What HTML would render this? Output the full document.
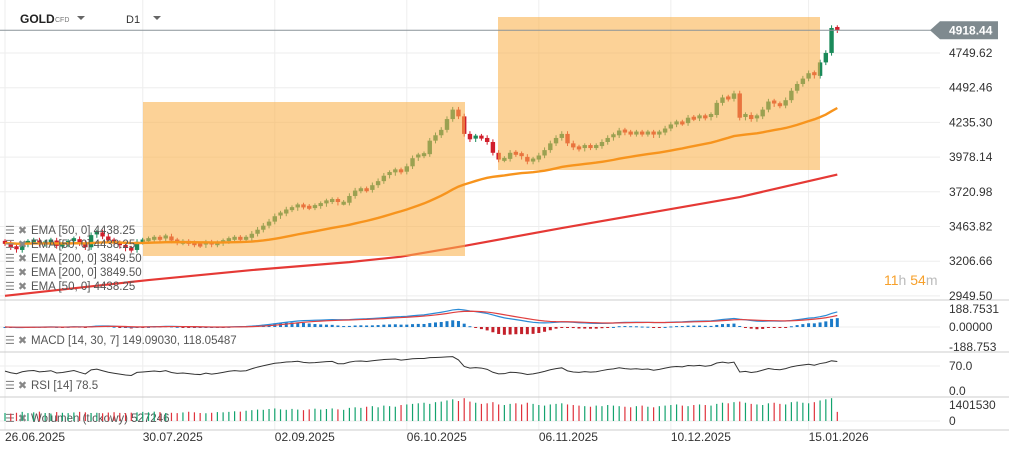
<!DOCTYPE html>
<html><head><meta charset="utf-8"><style>
body{margin:0;background:#fff;}
svg{display:block;font-family:"Liberation Sans",sans-serif;}
</style></head><body>
<svg id="chart" width="1009" height="450" viewBox="0 0 1009 450" xmlns="http://www.w3.org/2000/svg">
<rect width="1009" height="450" fill="#fff"/>
<g id="grid"></g>
<g id="ema200g"></g>
<g id="candles"></g>
<rect x="143" y="102" width="322" height="154" fill="rgb(250,178,75)" opacity="0.58"/>
<rect x="498" y="17" width="322" height="153" fill="rgb(250,178,75)" opacity="0.58"/>
<g id="ema50top"></g>
<g id="panels"></g>
<g id="axes"></g>
<g>
<text x="20" y="23" font-size="12" font-weight="bold" fill="#222">GOLD</text>
<text x="55" y="22" font-size="7" fill="#777">CFD</text>
<path d="M77 16 L85 16 L81 20 Z" fill="#666"/>
<text x="126" y="23" font-size="11" fill="#333">D1</text>
<path d="M153 16 L161 16 L157 20 Z" fill="#666"/>
</g>
<text x="884" y="285" font-size="14"><tspan fill="#f7a02a">11</tspan><tspan fill="#bbb">h </tspan><tspan fill="#f7a02a">54</tspan><tspan fill="#bbb">m</tspan></text>
</svg>
<script>
const closes=[3340,3310,3290,3330,3350,3360,3335,3345,3360,3320,3330,3350,3370,3340,3310,3400,3420,3390,3360,3340,3320,3300,3290,3350,
3360,3370,3380,3370,3390,3360,3345,3350,3340,3330,3325,3345,3330,3340,3355,3370,3380,3375,
3380,3410,3440,3470,3500,3540,3560,3590,3600,3620,3610,3605,3615,3630,3650,3660,3640,3640,3690,
3730,3740,3735,3770,3800,3840,3860,3880,3870,3910,3970,3990,4000,4100,4140,4180,4260,4330,4280,4150,
4110,4130,4120,4090,4010,3960,3965,4010,4000,3980,3945,3960,3990,4030,4080,4120,4150,4080,4050,4040,
4060,4050,4060,4090,4120,4140,4175,4160,4150,4160,4150,4160,4140,4160,4190,4220,4235,4230,4270,4265,
4280,4270,4290,4380,4420,4410,4450,4270,4290,4260,4280,4330,4390,4370,4360,4400,4470,4520,4560,4600,4580,4680,4750,4935,4918];
const volumes=[700,650,720,800,690,760,820,700,650,780,720,690,750,800,760,700,720,680,740,770,710,690,730,760,
800,760,820,780,700,720,690,750,810,760,700,680,720,780,760,800,850,820,
900,950,1000,980,1050,1100,1020,980,1060,1000,950,1020,1080,1000,1050,1100,1020,980,1150,
1200,1150,1250,1300,1200,1350,1300,1250,1400,1450,1500,1550,1600,1500,1650,1700,1800,1900,1750,2000,
1700,1600,1500,1550,1650,1450,1400,1500,1550,1450,1600,1500,1400,1350,1450,1500,1550,1450,1400,1350,
1300,1250,1350,1300,1400,1350,1300,1250,1200,1300,1350,1250,1200,1300,1350,1400,1450,1350,1300,1400,
1450,1400,1350,1500,1600,1550,1650,1700,1600,1500,1450,1400,1550,1600,1500,1450,1650,1700,1600,1550,1650,1800,1900,2000,800];
const ema200Idx=[0,25,43,60,69,80,97,111,128,145];
const ema200Val=[2950,3067,3141,3200,3240,3320,3452,3556,3682,3849];
const priceTicks=[4749.62,4492.46,4235.30,3978.14,3720.98,3463.82,3206.66,2949.50];
const dateIdx=[0,24,47,70,93,116,140];
const dateLabels=["26.06.2025","30.07.2025","02.09.2025","06.10.2025","06.11.2025","10.12.2025","15.01.2026"];
const lastPrice=4918.44;

const NS="http://www.w3.org/2000/svg";
function mk(tag,attrs,parent){const e=document.createElementNS(NS,tag);for(const k in attrs)e.setAttribute(k,attrs[k]);parent.appendChild(e);return e;}
const xOf=i=>5+i*5.74;
const yP=p=>53+(4749.62-p)*34.7/257.16;
const yM=v=>327-v*18.5/188.75;
const yR=v=>391-v*25/70;
const yV=v=>421-v*16/1401.53;
const G=id=>document.getElementById(id);

const grid=G('grid');
priceTicks.forEach(p=>{const l=mk('line',{x1:0,x2:940,y1:yP(p),y2:yP(p),stroke:'#eee'},grid);

});
dateIdx.forEach(i=>{const l=mk('line',{x1:xOf(i),x2:xOf(i),y1:0,y2:430,stroke:'#eee'},grid);

});
[[327],[366],[421]].forEach(a=>{const l=mk('line',{x1:0,x2:940,y1:a[0],y2:a[0],stroke:'#eee'},grid);

});

let pts=ema200Idx.map((ix,k)=>xOf(ix)+','+yP(ema200Val[k])).join(' ');
const e2=mk('polyline',{points:pts,fill:'none',stroke:'#e53935','stroke-width':2.2},G('ema200g'));



const cg=G('candles');
closes.forEach((c,i)=>{
  const o=i===0?c+10:closes[i-1];
  const up=c>=o;const col=up?'#1a8a5a':'#d11f2c';
  const hi=Math.max(o,c)+20,lo=Math.min(o,c)-20;const x=xOf(i);
  const w=mk('line',{x1:x,x2:x,y1:yP(hi),y2:yP(lo),stroke:col,'stroke-width':1},cg);
  
  
  const top=yP(Math.max(o,c)),h=Math.max(3,yP(Math.min(o,c))-top);
  const b=mk('rect',{x:x-2.2,y:top-(h===3?1:0),width:4.4,height:h,fill:col},cg);
  
  
});

function ema(arr,n){const a=2/(n+1);const out=[];let v=arr[0];arr.forEach((x,i)=>{v=i===0?x:a*x+(1-a)*v;out.push(v);});return out;}
const e50=ema(closes,50);
const e5=mk('polyline',{points:e50.map((v,i)=>xOf(i)+','+yP(v)).join(' '),fill:'none',stroke:'#f7941d','stroke-width':2.4},G('ema50top'));



const pn=G('panels');
const legs=[["EMA  [50,  0]  4438.25",234],["EMA  [50,  0]  4438.25",248],["EMA  [200,  0]  3849.50",262],["EMA  [200,  0]  3849.50",276],["EMA  [50,  0]  4438.25",290],["MACD  [14,  30,  7]  149.09030,   118.05487",344],["RSI  [14]  78.5",389],["Wolumen  (tickowy)  527246",422]];
legs.forEach(l=>{
  const ic=mk('text',{x:5,y:l[1],'font-size':11,fill:'#888'},pn);ic.textContent='☰ ✖';
  
  
  const t=mk('text',{x:31,y:l[1],'font-size':11.5,fill:'#555'},pn);t.textContent=l[0];
  
  
});

[300,352,397,430].forEach(y=>{const l=mk('line',{x1:0,x2:1009,y1:y,y2:y,stroke:'#ccc'},pn);

});

const m1=ema(closes,14),m2=ema(closes,30);
const macd=m1.map((v,i)=>v-m2[i]);const sig=ema(macd,7);
macd.forEach((v,i)=>{const h=v-sig[i];const y0=yM(0),y1=yM(h*2.5);
  const r=mk('rect',{x:xOf(i)-1.5,y:Math.min(y0,y1),width:3,height:Math.max(1,Math.abs(y1-y0)),fill:h>=0?'#1a7ac8':'#c4202a'},pn);
  
  });
const ml=mk('polyline',{points:macd.map((v,i)=>xOf(i)+','+yM(v)).join(' '),fill:'none',stroke:'#2a8bd6','stroke-width':1.2},pn);


const sl=mk('polyline',{points:sig.map((v,i)=>xOf(i)+','+yM(v)).join(' '),fill:'none',stroke:'#e04040','stroke-width':1.2},pn);



const rsi=[];let ag=0,al=0;
closes.forEach((c,i)=>{const d=i===0?0:c-closes[i-1];const g=Math.max(d,0),lo=Math.max(-d,0);
  if(i===0){ag=15;al=12;}else{ag=(ag*13+g)/14;al=(al*13+lo)/14;}
  rsi.push(100-100/(1+ag/(al||1e-6)));});
const rl=mk('polyline',{points:rsi.map((v,i)=>xOf(i)+','+yR(v)).join(' '),fill:'none',stroke:'#333','stroke-width':1},pn);



volumes.forEach((v,i)=>{const up=i===0||closes[i]>=closes[i-1];
  const l=mk('line',{x1:xOf(i),x2:xOf(i),y1:yV(0),y2:yV(v),stroke:up?'#13a36e':'#e0323c','stroke-width':1.2},pn);
  
  });

const ax=G('axes');
priceTicks.forEach(p=>{const t=mk('text',{x:949,y:yP(p)+4,'font-size':12,fill:'#333'},ax);t.textContent=p.toFixed(2);

});
[["188.7531",313],["0.00000",331],["-188.753",351],["70.0",370],["0.0",395],["1401530",409],["0",425]].forEach(a=>{
  const t=mk('text',{x:949,y:a[1],'font-size':12,fill:'#333'},ax);t.textContent=a[0];
  
  });
dateIdx.forEach((ix,k)=>{const t=mk('text',{x:xOf(ix),y:441,'font-size':12,fill:'#333'},ax);t.textContent=dateLabels[k];

});
const ly=yP(lastPrice);
const pl=mk('line',{x1:0,x2:935,y1:ly,y2:ly,stroke:'#8a9399','stroke-width':1},ax);


const pb=mk('path',{d:`M930 ${ly} L940 ${ly-9} L998 ${ly-9} L998 ${ly+9} L940 ${ly+9} Z`,fill:'#7f8a8f'},ax);


const pt=mk('text',{x:949,y:ly+4.5,'font-size':12,'font-weight':'bold',fill:'#fff'},ax);pt.textContent=lastPrice.toFixed(2);


</script>
</body></html>
